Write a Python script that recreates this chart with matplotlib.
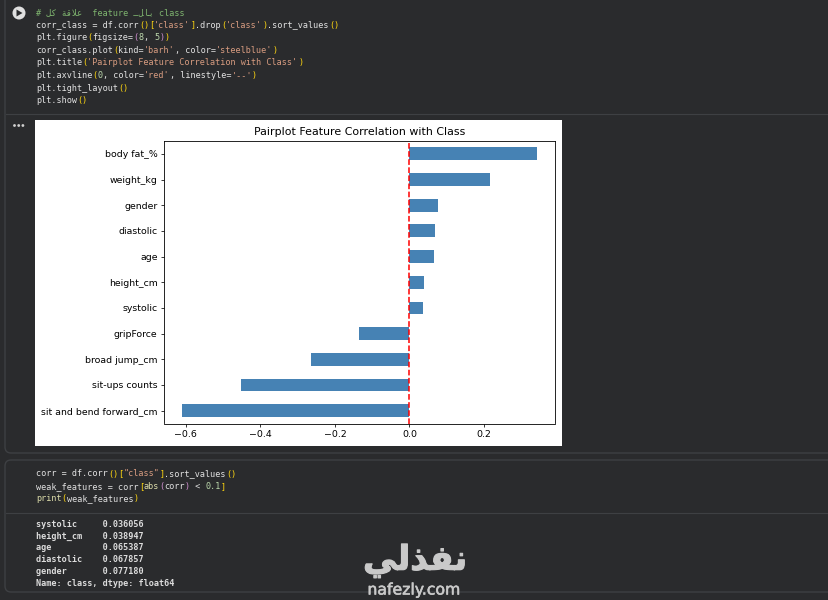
import matplotlib
matplotlib.use('Agg')
import matplotlib.pyplot as plt
import matplotlib.patheffects as pe
from matplotlib.patches import FancyBboxPatch, Rectangle, Polygon, Circle

features = ['sit and bend forward_cm', 'sit-ups counts', 'broad jump_cm', 'gripForce', 'systolic',
            'height_cm', 'age', 'diastolic', 'gender', 'weight_kg', 'body fat_%']
corr_values = [-0.611, -0.453, -0.263, -0.136, 0.036056, 0.038947, 0.065387, 0.067857, 0.07718, 0.217, 0.343]

WH = '#e2e2e2'
GR = '#7fb56f'
OR = '#d89c80'
YE = '#ffd710'
FN = '#dcdcaa'
PU = '#d08fd0'
NU = '#bcd8ac'
BG = '#2a2b2d'
LINE = '#3e4043'
MONO = ['DejaVu Sans Mono', 'DejaVu Sans']

# Arabic written as presentation forms in drawing order, matplotlib does no shaping
ar_all = '\ufe94\ufed7\ufefc\ufecb'
ar_kl = '\ufede\ufedb'
ar_bal = '\u0640\ufede\ufe8e\ufe91'
logo = '\ufef2\ufedf\ufeac\ufed4\ufee7'

code1 = [
    [('# ' + ar_kl + ' ' + ar_all + '  feature ' + ar_bal + ' class', GR)],
    [('corr_class = df.corr', WH), ('()', YE), ('[', YE), ("'class'", OR), (']', YE), ('.drop', WH), ('(', YE),
     ("'class'", OR), (')', YE), ('.sort_values', WH), ('()', YE)],
    [('plt.figure', WH), ('(', YE), ('figsize=', WH), ('(', PU), ('8', NU), (', ', WH), ('5', NU), (')', PU), (')', YE)],
    [('corr_class.plot', WH), ('(', YE), ('kind=', WH), ("'barh'", OR), (', color=', WH), ("'steelblue'", OR), (')', YE)],
    [('plt.title', WH), ('(', YE), ("'Pairplot Feature Correlation with Class'", OR), (')', YE)],
    [('plt.axvline', WH), ('(', YE), ('0', NU), (', color=', WH), ("'red'", OR), (', linestyle=', WH), ("'--'", OR), (')', YE)],
    [('plt.tight_layout', WH), ('()', YE)],
    [('plt.show', WH), ('()', YE)],
]
code2 = [
    [('corr = df.corr', WH), ('()', YE), ('[', YE), ('"class"', OR), (']', YE), ('.sort_values', WH), ('()', YE)],
    [('weak_features = corr', WH), ('[', YE), ('abs', FN), ('(', PU), ('corr', WH), (')', PU), (' < ', WH), ('0.1', NU), (']', YE)],
    [('print', FN), ('(', YE), ('weak_features', WH), (')', YE)],
]
output = ['systolic     0.036056', 'height_cm    0.038947', 'age          0.065387',
          'diastolic    0.067857', 'gender       0.077180', 'Name: class, dtype: float64']

fig = plt.figure(figsize=(8.29, 6), dpi=100, facecolor=BG)

# page overlay in pixels
bg = fig.add_axes([0, 0, 1, 1])
bg.set_xlim(0, 829)
bg.set_ylim(600, 0)
bg.axis('off')

bg.add_patch(FancyBboxPatch((5, -20), 900, 473, boxstyle='round,pad=0,rounding_size=6', fc='none', ec=LINE, lw=1))
bg.add_patch(FancyBboxPatch((5, 460), 900, 132, boxstyle='round,pad=0,rounding_size=6', fc='none', ec=LINE, lw=1))
bg.plot([6, 829], [114, 114], color=LINE, lw=0.8)
bg.plot([6, 829], [513, 513], color=LINE, lw=0.8)
bg.add_patch(Rectangle((35, 120), 527, 326, fc='white', ec='none'))

# run button and the dots
bg.add_patch(Circle((19, 13), 6.5, fc='#e0e0e0', ec='none'))
bg.add_patch(Polygon([[16.5, 9.5], [16.5, 16.5], [22.5, 13]], fc=BG, ec='none'))
for dx in [14.5, 18.7, 22.9]:
    bg.add_patch(Circle((dx, 125.5), 1.4, fc='#d0d0d0', ec='none'))


def draw_code(lines, y0, step):
    char_w = 5.14
    for i, tokens in enumerate(lines):
        col = 0
        for s, c in tokens:
            bg.text(36 + col * char_w, y0 + i * step, s, color=c, fontsize=6.15, family=MONO, va='center', ha='left')
            col += len(s)


draw_code(code1, 12.5, 12.6)
draw_code(code2, 474, 12.4)
for i, s in enumerate(output):
    bg.text(36, 524.5 + i * 11.7, s, color='#dcdcdc', fontsize=6.15, family=MONO, va='center', ha='left', fontweight='bold')

# watermark
thick = [pe.withStroke(linewidth=0.8, foreground='#c9c9c9')]
bg.text(415, 561, logo, color='#c9c9c9', fontsize=24.5, family='DejaVu Sans', fontweight='bold',
        ha='center', va='center', path_effects=thick)
bg.text(414, 590, 'nafezly.com', color='#c9c9c9', fontsize=11.3, family='DejaVu Sans', ha='center', va='center',
        path_effects=[pe.withStroke(linewidth=0.4, foreground='#c9c9c9')])

# the chart
ax = fig.add_axes([164 / 829, 1 - 423.5 / 600, 391 / 829, 282.5 / 600])
ax.barh(features, corr_values, height=0.5, color='steelblue')
ax.axvline(0, color='red', linestyle='--', lw=1.1)
ax.set_ylim(-0.5, 10.5)
ax.set_title('Pairplot Feature Correlation with Class', fontsize=7.95, pad=4)
ax.tick_params(labelsize=6.75, width=0.55, length=2.3, pad=2.3)
for sp in ax.spines.values():
    sp.set_linewidth(0.6)

fig.savefig('out.png', dpi=100, facecolor=BG)
